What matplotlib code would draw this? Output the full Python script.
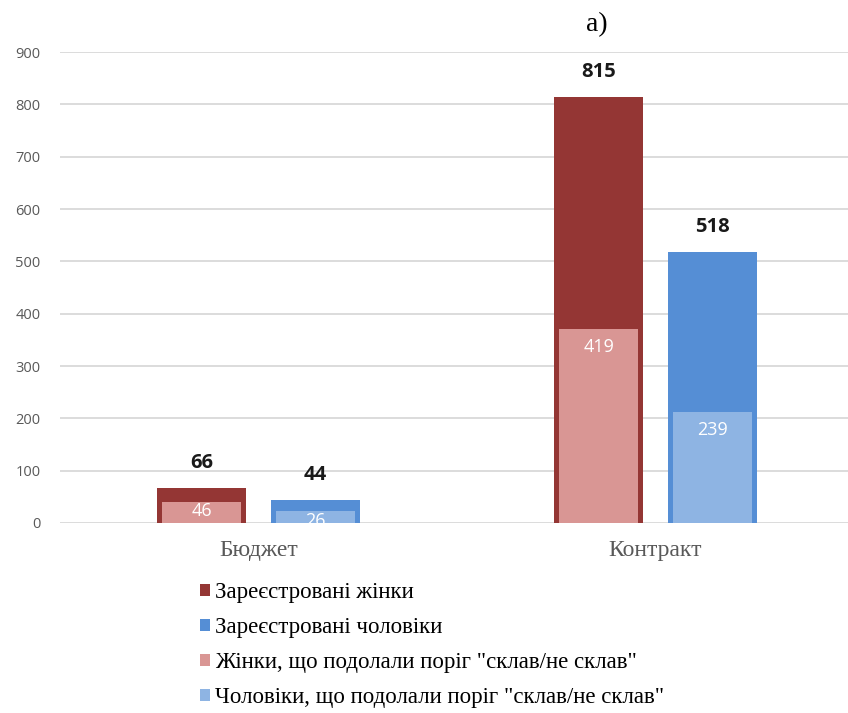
import matplotlib.pyplot as plt
import numpy as np

categories = ['Бюджет', 'Контракт']
women_reg = [66, 815]
men_reg = [44, 518]
women_pass = [46, 419]
men_pass = [26, 239]

labels = ['Зареєстровані жінки', 'Зареєстровані чоловіки',
          'Жінки, що подолали поріг "склав/не склав"',
          'Чоловіки, що подолали поріг "склав/не склав"']

c_wreg = '#943634'
c_mreg = '#558ED5'
c_wpass = '#D99694'
c_mpass = '#8EB4E3'

fig = plt.figure(figsize=(8.48, 7.13), dpi=100)
ax = fig.add_axes([0.0708, 0.2665, 0.9292, 0.6605])
ax2 = ax.twinx()

x = np.arange(len(categories))
off = 0.143
w_out = 0.224
w_in = 0.198

b1 = ax.bar(x - off, women_reg, w_out, color=c_wreg, label=labels[0], zorder=2)
b2 = ax.bar(x + off, men_reg, w_out, color=c_mreg, label=labels[1], zorder=2)
b3 = ax2.bar(x - off, women_pass, w_in, color=c_wpass, label=labels[2], zorder=3)
b4 = ax2.bar(x + off, men_pass, w_in, color=c_mpass, label=labels[3], zorder=3)

ax.set_xlim(-0.5, 1.485)
ax.set_ylim(0, 900)
ax2.set_ylim(0, 1015)
ax.set_yticks(range(0, 1000, 100))
ax.yaxis.grid(True, color='#d9d9d9', linewidth=1.3, zorder=0)
ax.set_axisbelow(True)
for a in (ax, ax2):
    for s in a.spines.values():
        s.set_visible(False)
ax2.set_yticks([])
ax.tick_params(axis='y', length=0, pad=14, labelsize=10.5, labelcolor='#595959')
ax.tick_params(axis='x', length=0, pad=12)
ax.set_xticks(x)
ax.set_xticklabels(categories, fontfamily='Liberation Serif', fontsize=17, color='#595959')
for t in ax.get_yticklabels():
    t.set_fontfamily('Open Sans')

# labels above registered bars
for bars, vals in ((b1, women_reg), (b2, men_reg)):
    for r, v in zip(bars, vals):
        ax.annotate(str(v), (r.get_x() + r.get_width() / 2, v), xytext=(0, 18),
                    textcoords='offset points', ha='center', va='center',
                    fontsize=14.5, fontweight='bold', color='#1a1a1a', fontfamily='Open Sans')

# labels inside passed bars
for bars, vals in ((b3, women_pass), (b4, men_pass)):
    for r, v in zip(bars, vals):
        dy = -13 if v > 100 else -7
        ax2.annotate(str(v), (r.get_x() + r.get_width() / 2, v), xytext=(0, dy),
                     textcoords='offset points', ha='center', va='center',
                     fontsize=13, color='white', fontfamily='Open Sans', zorder=5,
                     annotation_clip=False)

fig.text(0.704, 0.965, 'а)', fontsize=20, fontfamily='Liberation Serif', ha='center', va='center')

fig.legend([b1, b2, b3, b4], labels, loc='upper left', bbox_to_anchor=(0.222, 0.2),
           frameon=False, prop={'family': 'Liberation Serif', 'size': 16.5},
           handlelength=0.45, handleheight=0.45, handletextpad=0.2, labelspacing=0.62,
           borderpad=0)

fig.savefig('out.png', dpi=100)
